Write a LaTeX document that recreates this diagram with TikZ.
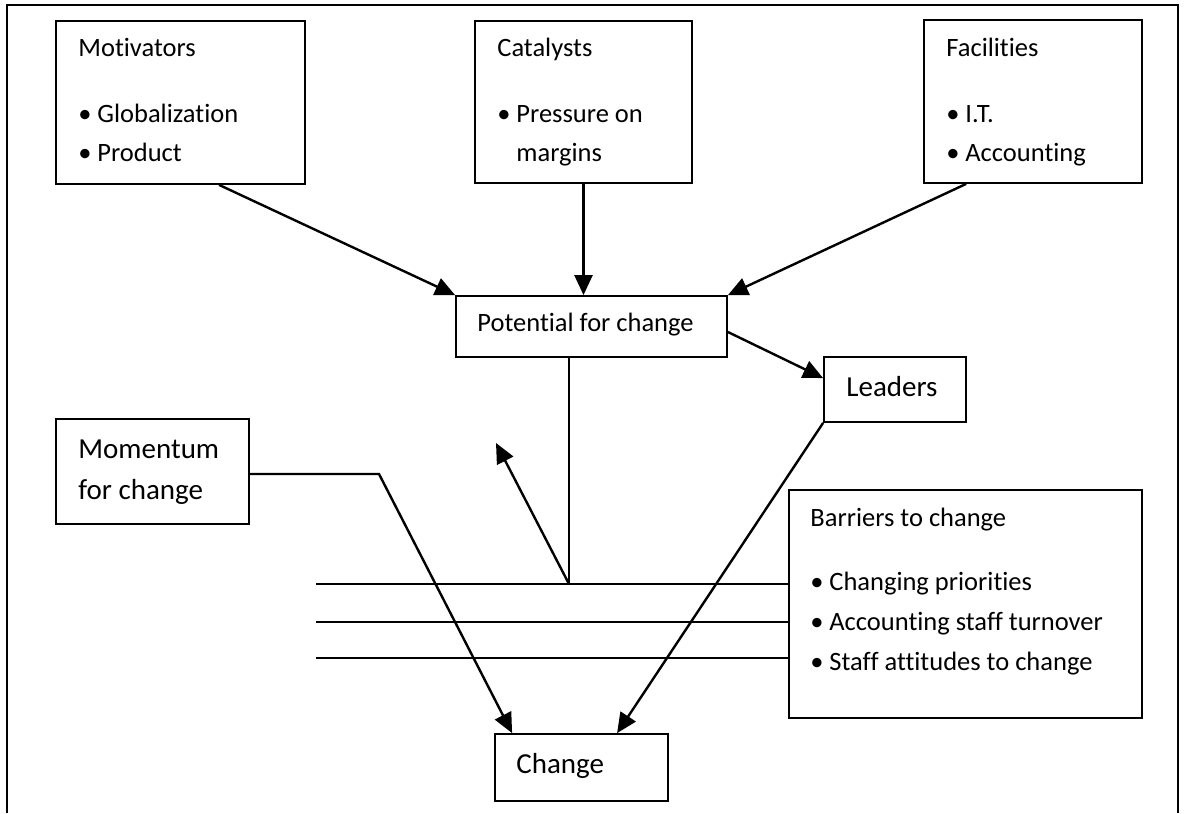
\documentclass[tikz,border=0pt]{standalone}
\usepackage{fontspec}
\setmainfont{Carlito}[Ligatures={NoCommon}]
\usetikzlibrary{arrows.meta,calc}
\newcommand{\bul}{\makebox[9.5pt][l]{\textbullet}}
\begin{document}
\begin{tikzpicture}[x=0.5pt, y=-0.5pt,
  box/.style={draw, line width=0.9pt, inner sep=0pt},
  txt/.style={anchor=base west, inner sep=0pt, font=\fontsize{13.25}{16}\selectfont},
  big/.style={txt, font=\fontsize{14.5}{17}\selectfont},
  arr/.style={-{Triangle[length=10pt,width=9pt]}, line width=1.2pt},
  bar/.style={line width=1pt}]
\useasboundingbox (0,0) rectangle (1187,813);
\draw[line width=1.2pt] (7,813) -- (7,5) -- (1178,5) -- (1178,813);

\node[box, minimum width=124.5pt, minimum height=81.5pt] (motiv) at (180.5,102.5) {};
\node[box, minimum width=108.5pt, minimum height=81pt] (catal) at (583.5,102) {};
\node[box, minimum width=109pt, minimum height=81.5pt] (facil) at (1033,101.5) {};
\node[box, minimum width=135.5pt, minimum height=30.5pt] (potent) at (591.5,326.5) {};
\node[box, minimum width=71pt, minimum height=32.5pt] (leaders) at (895,389.5) {};
\node[box, minimum width=96.5pt, minimum height=52.5pt] (moment) at (152.5,471.5) {};
\node[box, minimum width=176.5pt, minimum height=114pt] (barr) at (965.5,604) {};
\node[box, minimum width=86.5pt, minimum height=33.5pt] (change) at (581.5,767.5) {};

\node[txt] (motiv1) at (78,57) {Motivators};
\node[txt] (motiv2) at (78,122) {\bul Globalization};
\node[txt] (motiv3) at (78,162) {\bul Product};

\node[txt] (catal1) at (497,57) {Catalysts};
\node[txt] (catal2) at (497,122) {\bul Pressure on};
\node[txt] (catal3) at (516,162) {margins};

\node[txt] (facil1) at (946,57) {Facilities};
\node[txt] (facil2) at (946,122) {\bul I.T.};
\node[txt] (facil3) at (946,162) {\bul Accounting};

\node[txt] (potent1) at (477,331) {Potential for change};
\node[big] (leaders1) at (846,396) {Leaders};
\node[big] (moment1) at (78,458) {Momentum};
\node[big] (moment2) at (78,499) {for change};

\node[txt] (barr1) at (810,526) {Barriers to change};
\node[txt] (barr2) at (810,590) {\bul Changing priorities};
\node[txt] (barr3) at (810,630) {\bul Accounting staff turnover};
\node[txt] (barr4) at (810,670) {\bul Staff attitudes to change};

\node[big] (change1) at (516,773) {Change};

\draw[arr] ([xshift=82pt]motiv.south west) -- (potent.north west);
\draw[arr] (catal.south) -- (catal.south |- potent.north);
\draw[arr] ([xshift=21.5pt]facil.south west) -- (potent.north east);
\draw[arr] ([yshift=-2.75pt]potent.east) -- ([yshift=-11pt]leaders.north west);
\draw[arr] (leaders.south west) -- ([xshift=61.5pt]change.north west);

\coordinate (bend) at (379,474);
\draw[arr] (moment.east |- bend) -- (bend) -- ([xshift=9pt]change.north west);

\coordinate (stem) at (569,584);
\coordinate (tip) at (496,443);
\draw[bar] (stem |- potent.south) -- (stem);
\draw[arr] (stem) -- (tip);

\coordinate (l1) at (316,584);
\coordinate (l2) at (316,622);
\coordinate (l3) at (316,658);
\draw[bar] (l1) -- (l1 -| barr.west);
\draw[bar] (l2) -- (l2 -| barr.west);
\draw[bar] (l3) -- (l3 -| barr.west);

\end{tikzpicture}
\end{document}
